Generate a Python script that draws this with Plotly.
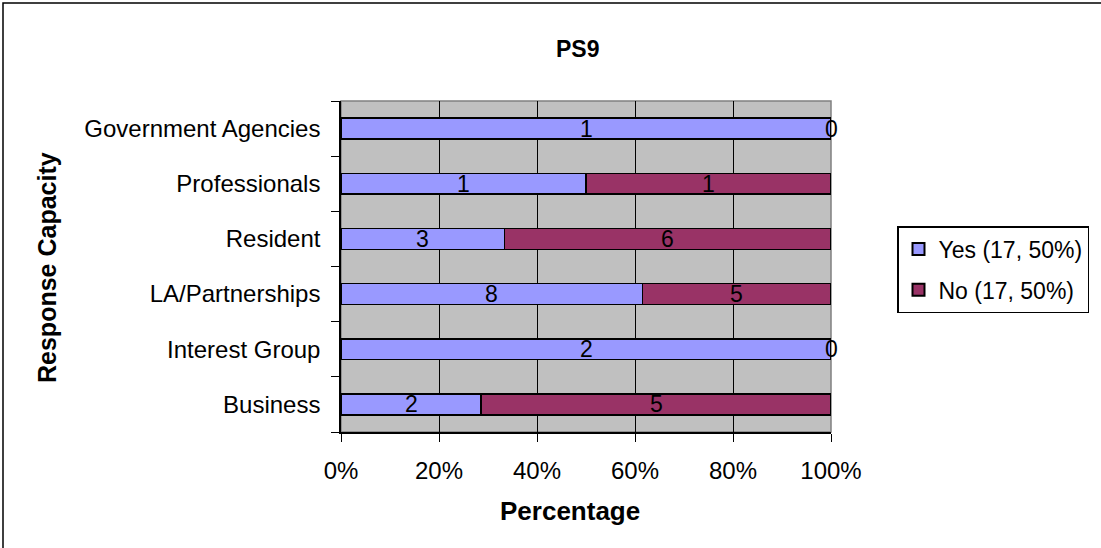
import plotly.graph_objects as go

# Response capacity categories, listed bottom to top
categories = ["Business", "Interest Group", "LA/Partnerships", "Resident",
              "Professionals", "Government Agencies"]
yes_counts = [2, 2, 8, 3, 1, 1]
no_counts = [5, 0, 5, 6, 1, 0]
legend_names = ["Yes (17, 50%)", "No (17, 50%)"]
x_ticks = [0, 20, 40, 60, 80, 100]
x_tick_labels = ["0%", "20%", "40%", "60%", "80%", "100%"]

W, H = 1101, 548
L, R, T, B = 341, 831, 101, 432  # plot area in pixels

FONT = "Liberation Sans, Arial, sans-serif"
YES_COLOR = "#9999FF"
NO_COLOR = "#993366"

fig = go.Figure()
fig.add_trace(go.Bar(y=categories, x=yes_counts, orientation="h", name=legend_names[0],
                     legendgroup="yes",
                     marker=dict(color=YES_COLOR, line=dict(color="black", width=1.5))))
fig.add_trace(go.Bar(y=categories, x=no_counts, orientation="h", name=legend_names[1],
                     legendgroup="no",
                     marker=dict(color=NO_COLOR, line=dict(color="black", width=1.5))))

# count labels centred in each stacked segment (positions in percent of the row total)
annotations = []
for cat, y_val, n_val in zip(categories, yes_counts, no_counts):
    total = y_val + n_val
    yes_pct = 100.0 * y_val / total
    no_pct = 100.0 * n_val / total
    for val, centre in ((y_val, yes_pct / 2), (n_val, yes_pct + no_pct / 2)):
        annotations.append(dict(x=centre, y=cat, xref="x", yref="y", text=str(val),
                                showarrow=False, xanchor="center", yanchor="middle",
                                font=dict(family=FONT, size=23, color="black")))

def px_x(p):
    return (p - L) / (R - L)

def px_y(p):
    return (B - p) / (B - T)

annotations += [
    dict(text="<b>PS9</b>", x=px_x(577), y=px_y(49), xref="paper", yref="paper",
         xanchor="center", yanchor="middle", showarrow=False,
         font=dict(family=FONT, size=23, color="black")),
    dict(text="<b>Percentage</b>", x=px_x(570), y=px_y(511), xref="paper", yref="paper",
         xanchor="center", yanchor="middle", showarrow=False,
         font=dict(family=FONT, size=26, color="black")),
    dict(text="<b>Response Capacity</b>", x=px_x(47), y=px_y(268), xref="paper", yref="paper",
         xanchor="center", yanchor="middle", showarrow=False, textangle=-90,
         font=dict(family=FONT, size=25, color="black")),
]

shapes = [
    # chart frame
    dict(type="rect", xref="paper", yref="paper", x0=px_x(3), x1=px_x(1200),
         y0=px_y(620), y1=px_y(3), line=dict(color="black", width=1.5), layer="below"),
    # plot area frame
    dict(type="rect", xref="paper", yref="paper", x0=0, x1=1, y0=0, y1=1,
         line=dict(color="#808080", width=1.5), layer="below"),
]

fig.update_layout(
    width=W, height=H,
    margin=dict(l=L, r=W - R, t=T, b=H - B, pad=0, autoexpand=False),
    barmode="stack", barnorm="percent", bargap=0.62,
    plot_bgcolor="#C0C0C0", paper_bgcolor="white",
    font=dict(family=FONT, size=23, color="black"),
    showlegend=True,
    legend=dict(x=px_x(897), y=px_y(226), xref="paper", yref="paper",
                xanchor="left", yanchor="top", bordercolor="black", borderwidth=1.5,
                bgcolor="white", font=dict(family=FONT, size=23, color="black"),
                traceorder="grouped", itemsizing="constant", tracegroupgap=8,
                itemwidth=30),
    annotations=annotations, shapes=shapes,
)
fig.update_xaxes(range=[0, 100], tickvals=x_ticks, ticktext=x_tick_labels,
                 showgrid=True, gridcolor="black", gridwidth=1,
                 showline=True, linecolor="black", linewidth=1.5,
                 ticks="outside", ticklen=8, tickcolor="black", zeroline=False,
                 tickfont=dict(family=FONT, size=24), ticklabelstandoff=8,
                 automargin=False)
fig.update_yaxes(type="category", categoryorder="array", categoryarray=categories,
                 showgrid=False, showline=True, linecolor="black", linewidth=1.5,
                 ticks="outside", ticklen=8, tickcolor="black", tickson="boundaries",
                 tickfont=dict(family=FONT, size=24), ticklabelstandoff=14,
                 automargin=False)

fig.write_html("out.html")
